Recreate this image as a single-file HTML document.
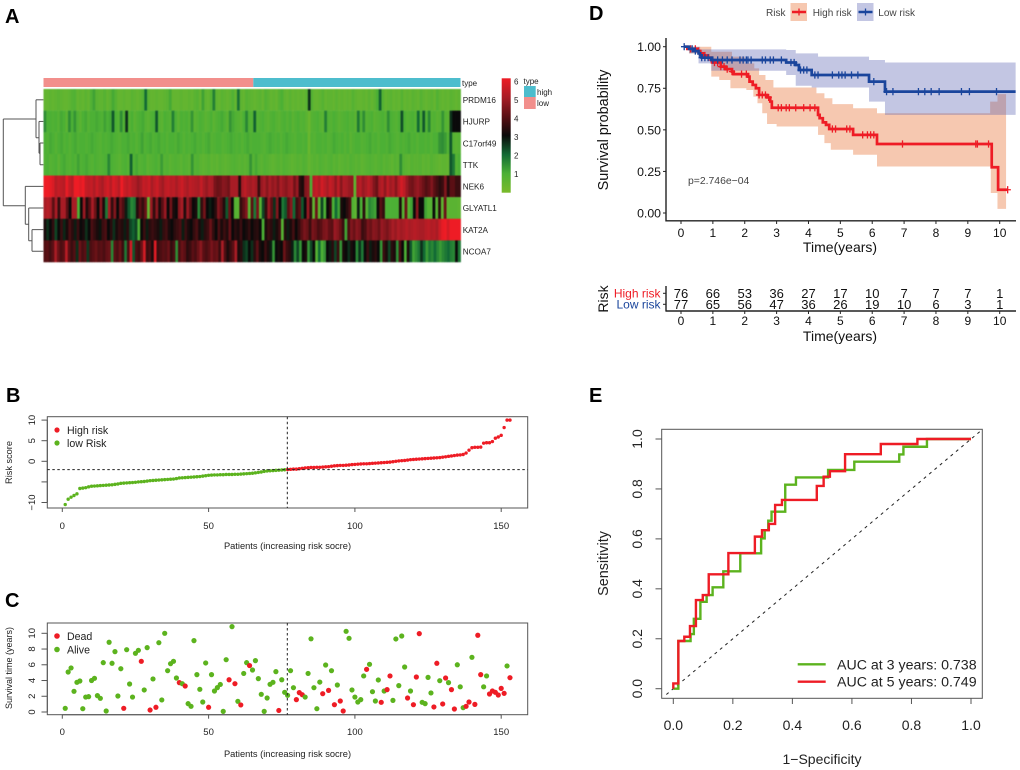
<!DOCTYPE html>
<html>
<head>
<meta charset="utf-8">
<title>Risk signature figure</title>
<style>
html,body{margin:0;padding:0;background:#fff;}
svg{display:block;font-family:"Liberation Sans",Arial,sans-serif;filter:blur(0.35px);}
#heat{filter:blur(0.5px);}
.letter{font-size:20px;font-weight:bold;fill:#000;}
.r{fill:#222;}
</style>
</head>
<body>
<svg id="fig" width="1020" height="770" viewBox="0 0 1020 770" xmlns="http://www.w3.org/2000/svg">
<rect x="0" y="0" width="1020" height="770" fill="#fff"/>
<text class="letter" x="5" y="23">A</text>
<text class="letter" x="6" y="402">B</text>
<text class="letter" x="5" y="607">C</text>
<text class="letter" x="589" y="20">D</text>
<text class="letter" x="589" y="402">E</text>

<g id="heat"></g>
<rect x="43.5" y="78" width="209.8" height="9" fill="#f28f8c"/>
<rect x="253.3" y="78" width="207.2" height="9" fill="#4dbdcd"/>
<text class="r" x="462" y="86" font-size="8">type</text>
<g id="dendro" stroke="#555" stroke-width="1" fill="none"></g>
<g id="genes"></g>
<defs>
<linearGradient id="cbar" x1="0" y1="1" x2="0" y2="0">
<stop offset="0" stop-color="#7aba2a"/><stop offset="0.167" stop-color="#4cb035"/><stop offset="0.333" stop-color="#126a35"/><stop offset="0.5" stop-color="#0a0a0a"/><stop offset="0.667" stop-color="#5a0f14"/><stop offset="0.833" stop-color="#a81c25"/><stop offset="1" stop-color="#ee1c25"/>
</linearGradient>
</defs>
<rect x="501.7" y="78.3" width="9" height="114.4" fill="url(#cbar)"/>
<g id="cbarTicks"></g>
<text class="r" x="523.5" y="84" font-size="8">type</text>
<rect x="524" y="86" width="11.7" height="11" fill="#4dbdcd"/>
<rect x="524" y="97" width="11.7" height="12" fill="#f28f8c"/>
<text class="r" x="537" y="95" font-size="8">high</text>
<text class="r" x="537" y="106" font-size="8">low</text>

<rect x="47.3" y="416.7" width="480.4" height="91.3" fill="none" stroke="#555" stroke-width="1"/>
<g id="bAxes"></g>
<g id="bPts"></g>
<line id="bH" x1="47.3" x2="527.7" stroke="#222" stroke-width="1" stroke-dasharray="2.5 2.5"/>
<line id="bV" y1="416.7" y2="508" stroke="#222" stroke-width="1" stroke-dasharray="2.5 2.5"/>
<circle cx="57" cy="430" r="2.6" fill="#ee1c25"/>
<circle cx="57" cy="443" r="2.6" fill="#5cb31e"/>
<text class="r" x="67" y="434" font-size="10.6">High risk</text>
<text class="r" x="67" y="447" font-size="10.6">low Risk</text>
<text class="r" x="287.5" y="549" font-size="9.3" text-anchor="middle">Patients (increasing risk socre)</text>
<text class="r" text-anchor="middle" font-size="9.2" transform="translate(12,462.5) rotate(-90)">Risk score</text>

<rect x="47.3" y="623" width="480.4" height="91.7" fill="none" stroke="#555" stroke-width="1"/>
<g id="cAxes"></g>
<g id="cPts"></g>
<line id="cV" y1="623" y2="714.7" stroke="#222" stroke-width="1" stroke-dasharray="2.5 2.5"/>
<circle cx="57" cy="636" r="2.8" fill="#ee1c25"/>
<circle cx="57" cy="649.5" r="2.8" fill="#5cb31e"/>
<text class="r" x="67" y="640" font-size="10.6">Dead</text>
<text class="r" x="67" y="653.5" font-size="10.6">Alive</text>
<text class="r" x="287.5" y="757" font-size="9.3" text-anchor="middle">Patients (increasing risk socre)</text>
<text class="r" text-anchor="middle" font-size="9" transform="translate(12,668) rotate(-90)">Survival time (years)</text>

<text fill="#444" x="766" y="16" font-size="10">Risk</text>
<rect x="790.5" y="3" width="16.5" height="18" fill="#f6c8b0"/>
<line x1="792" x2="806" y1="12" y2="12" stroke="#ee1c25" stroke-width="2.5"/>
<line x1="799" x2="799" y1="8.5" y2="15.5" stroke="#ee1c25" stroke-width="1.3"/>
<text fill="#444" x="812.7" y="16" font-size="10">High risk</text>
<rect x="857" y="3" width="16.5" height="18" fill="#c3c6e3"/>
<line x1="858.5" x2="872.5" y1="12" y2="12" stroke="#1a459c" stroke-width="2.5"/>
<line x1="865.5" x2="865.5" y1="8.5" y2="15.5" stroke="#1a459c" stroke-width="1.3"/>
<text fill="#444" x="878.3" y="16" font-size="10">Low risk</text>
<g id="dRib"></g>
<g id="dLines"></g>
<g id="dAxes"></g>
<text fill="#444" x="688" y="184" font-size="10.4">p=2.746e−04</text>
<text fill="#111" x="840" y="252" font-size="14" text-anchor="middle">Time(years)</text>
<text fill="#111" text-anchor="middle" font-size="14.4" transform="translate(608,130) rotate(-90)">Survival probability</text>
<g id="tbl"></g>
<text fill="#ee1c25" x="660.5" y="297.5" font-size="12" text-anchor="end">High risk</text>
<text fill="#1a459c" x="660.5" y="308.5" font-size="12" text-anchor="end">Low risk</text>
<text fill="#111" text-anchor="middle" font-size="14" transform="translate(608,299) rotate(-90)">Risk</text>
<text fill="#111" x="840" y="341" font-size="14" text-anchor="middle">Time(years)</text>

<rect x="661.7" y="429.3" width="320.6" height="269" fill="none" stroke="#555" stroke-width="1"/>
<g id="eAxes"></g>
<line id="eDiag" stroke="#222" stroke-width="1" stroke-dasharray="3 4"/>
<path id="eGreen" fill="none" stroke="#5cb31e" stroke-width="2.4"/>
<path id="eRed" fill="none" stroke="#ee1c25" stroke-width="2.4"/>
<line x1="797.7" x2="825.7" y1="664.3" y2="664.3" stroke="#5cb31e" stroke-width="2.4"/>
<line x1="797.7" x2="825.7" y1="681.7" y2="681.7" stroke="#ee1c25" stroke-width="2.4"/>
<text fill="#222" x="837" y="669.3" font-size="14.2">AUC at 3 years: 0.738</text>
<text fill="#222" x="837" y="686.7" font-size="14.2">AUC at 5 years: 0.749</text>
<text fill="#222" x="822" y="764" font-size="14" text-anchor="middle">1−Specificity</text>
<text fill="#222" text-anchor="middle" font-size="14.4" transform="translate(608,563.5) rotate(-90)">Sensitivity</text>
</svg>

<script>
/* ---------- Panel A data ---------- */
var genes = ["PRDM16","HJURP","C17orf49","TTK","NEK6","GLYATL1","KAT2A","NCOA7"];
var colorbarLabels = [1,2,3,4,5,6];
var rowPRDM16 = [.5,.5,.6,.5,.6,.7,.6,.5,.5,.6, .8,.9,.5,.6,.5,.7,.5,.9,1.2,.7, .6,.6,.8,.5,.7,1.1,.8,.5,.5,.6, .5,.5,.7,.6,.5,.6,.8,2,.7,.5, .5,.6,.5,.5,.6,.7,1.1,.5,.5,.5, .6,.5,.5,.6,.5,.7,.8,.5,1.2,.6, .5,.8,1.7,.6,.5,.7,.6,.5,.6,.9, .5,1.9,.6,.5,.8,.7,.6,.5,.6,.7, .5,.9,.7,.5,.6,.5,.8,1,.6,.5, .7,.5,.6,.5,.6,.5,.7,2.6,.8,.5, .5,.6,.8,.5,.6,.6,.5,.7,.5,.6, .5,.6,.5,.8,.6,.5,.5,.6,.5,.7, .5,.7,1,2.1,.8,.5,.6,.7,.5,.6, .5,.8,.5,.6,.5,.7,.6,.5,.8,.6, .5,.6,.7,.5,.9,.6,.5,.6,.5,.7, .6,.5,.6];
var rowHJURP = [1.5,1,1,.9,1,.8,1.1,1,.7,1.5, 1,1.4,.9,.7,1,1.1,.8,1,1,1.1, 1,.9,1.2,1,1.1,2.2,1,.8,1.5,.9, 2.6,.8,1,.7,.9,1,1.1,.8,.7,.9, 1,2.2,.8,.7,1,.9,.8,1.7,1,.7, 1,.9,1,.8,1.4,.7,.8,1,.9,.7, .8,1,.7,.9,1,1.1,.9,.7,1.4,1.1, .9,.8,.7,1,1.6,.9,.8,2.1, .8,.9,1,.8,.7,.9,1,.8,.7,.9,1,.8,1,.7,.9,1,.8,.9,.7,.4,.8,.9,1,.8,.7,1.7,.9,.8,1,.9,.7,.8,.9,1,.8,.9,.7,1.8,.9,1.5,.8,.9,1,.7,.8,.9,1,.8,1.5,1,.9,.8,1,2.3,1,.8,.9,1,.8,2,.9,2.2,.9,1.6,.8,.9,.7,.8,1.4,.8,.7,2.6,3,3,3];
var rowC17orf49 = [1,.9,1.1,1,.8,1,1.1,.9,1,.8, 1,1.1,.9,1,1,.9,1,1.1,1,.9, .8,1,.9,1,1.1,1,.9,.8,1,1, 1.1,.9,1,.8,1,1.2,.9,1,1.1,.9, 1,1.1,.9,1,.8,1,1,.9,1.1,1, .8,1,.9,1,1.1,.9,1,.8,1,1.1, .8,.9,1,1,.8,.9,1,1.1,1,.9, 1,.8,1,1.1,.9,1,1, 1,.9,.8,1,1.1,1,.9,1,.8,1, 1.1,1,.9,.8,1,1,.9,1,.4,.9, .8,1,1,.9,1,.8,.9,1.1,1,.9, 1,.8,1,.7,.9,1,1,.8,.9,1, 1.1,.9,1,.8,1,1,.9,1.1,1,.9, .8,1,.9,1,1.1,.9,1,.8,1,1, .9,1,.8,1,1,1.4,1.5,1.3,.9,2.2, .8,.7,.8];
var rowTTK = [.9,1,.8,.9,1,.7,1,1.1,.9,.8, 1,.9,1.2,.9,1,1.1,.9,.8,1,.9, .8,.9,1,1.6,1,.9,.8,.7,.9,1, .8,2.1,.9,1.1,.8,.9,1,.7,.8,.9, 1,.8,1.3,.8,.9,.7,.8,.9,.8,.7, .9,.8,.7,1.4,.8,.9,.7,.6,.7,.8, .6,.7,.6,.8,.7,.6,.7,.8,.9,.8, .7,.8,.7,.8,1.4,.8,1.1, .8,.7,.9,.8,.7,.6,.7,.8,.7,.9, .8,.7,.6,.7,.8,.7,.9,.8,.5,.7, .8,.7,.9,.8,.7,.8,.9,.7,.8,.6, .7,.8,.7,.9,.8,.7,.8,.6,.7,.8, .9,.8,.7,.8,.9,.7,.8,.7,.6,.8, .7,1.5,.8,.7,.6,.8,.7,.7,.8,.6, .7,.6,.8,.7,.6,.5,.6,.6,.5,2.2, 1.8,.8,1];
var rowNEK6 = [6,6,5.9,5.7,5.2,5.4,5.3,5.2,5.9,5.4, 5.2,6,6,5.8,6,5.4,5.3,5.4,5.1,5.5, 5.2,5,5.4,5.6,5.2,5.7,5.5,5.2,6,5.5, 5.3,5.5,5.2,5.1,4.8,5,5.4,5.3,5.5,5,5.3,5.5,5.1,4.9,5.3,5.4,5.2,5.3,5,5.3,5.5,5.2,5,5.3,5.2,5.1,5,5.4,5,4.8,5.1,5,4.4,4.2,4.3,4.6,4.5,4.3,5,5,5,3.3,5,5.3,5,4.9,5.1, 4.9,3.6,4.8,5,4.6,5,4.7,4.9,4.5,5,4.8,4.6,4.9,5,4.3,4.8,3.4,3.2,4.5,4.7,1,5.2,5.4,5.1,5.6,5.3,5,5.4,5.2,4.7,5.3,4.6,5.1,5,4.8,4.7,.6,5,5.2,4.8,5,5.3,5,4.5,4.2,5,5.2,4.7,5.3,4.9,5.1,4.6,5.2,5.6,5.3,4.8,4.4,4.3,4.6,4.8,4.5,4.2,3.9,4.1,4.5,4,3.7,3.4,3.6,4.5,3.3,4,4,3.6,3.6];
var rowGLYATL1 = [5,5.2,5,4,5,3.5,5,5,4,3, 5,5,1,3,4.8,3.3,4,5,4.2,3, 4.6,3.2,1.8,5,3.5,4.5,3,4.3,3.8,2.8, 2.2,1.6,1.8,3.3,4,3.5,4.2,.5,4.8,3.5, 4.6,3.2,4,4.8,3,4.3,3.2,3,4.6,5, 3.3,4.8,4,3,3.2,1.6,3.5,4.3,3,2.8, 3,3.4,4.5,4,3.3,2.2,4.2,3,.8,.7, 3.5,4,4.5,.7,4,1.8,4.4, .8,2.4,3.5,4.8,4,2.6,4.5,3,1.8,2.2,4,4.6,2,3.6,4,2.2,3,4.8,3.5,.6,4.2,.6,2.4,1,3,3.5,1,2,1.2,3.2,3,3.4,3.8,.9,.6,2.8,1,3.4,.8,1.6,1.4,1.2,3,4,3.5,1,1,1,1,1,3.2,.8,4.2,.8,1.2,3,4.6,3,3,1.2,.8,.8,3,.8,3.4,.6,4.2,.6,.7,.7,.7,.6];
var rowKAT2A = [3.2,2.6,3,3.5,2.4,3,3.6,2.7,3.2,3.8, 3.4,2.8,3.6,3,3.2,2.6,3,3.8,3.5,3.2, 2.9,3.6,3.8,3,3.4,2.6,3.2,3.5,3.3,2.8, 3.4,2.4,2.1,2.4,1,3,3.6,2.8,3.4,3.6, 3.4,3.2,2.8,3.5,3.7,3.2,3,3.4,3.6,3.8, 2.8,3.6,3.2,3,3.5,3.8,3.2,2.8,3.4,3.6, 4.2,3.5,3,3.8,3.2,3.6,3.3,4.1,3,3.4, 3.2,3.6,3,3.2,3.5,3,3.3, 3.4,3,1,3.2,3.6,3.4,2.8,3.2,3.6,.8,3.3,2.8,3.2,3.7,3,3.5,4,4.4,4.2,3.6,4.4,4.2,3.8,4,4.4,4.5,4.1,4,4.8,4.6,4.2,3.6,1.2,3.8,4.5,4.2,4.6,4.4,3.6,3.8,4.4,4.2,4.6,4.5,4.2,4.8,4.6,4.4,4.7,5,4.8,5.1,4.9,5,5.2,5,5.1,5.2,5.1,5,5,5.2,5.3,5.1,5.2,5,5.5,5.9,6,5.6,6,6,6,6];
var rowNCOA7 = [3.9,4,3.7,4,5,4.2,3.8,4,5.2,4, 3.6,3.9,2.6,4.2,3.8,4,2.5,3.8,4,4.2, 3.9,4,3.8,4.1,4.2,1.6,4,3.8,4.2,3.6, 1.8,3.8,5.6,2.2,3.8,3.6,4.2,5.6,3.6,3.8, 3.2,5.8,3.6,3.8,4,3.9,4.2,3.5,3.8,1.5, 3.8,4.2,4,3.4,3.6,4,3.8,4.2,4.6,4,3.8,4,4.4,4.1,4.2,3.6,5,3.8,3.2,3.6,4,5,3.2,3.4,2.6,2.4,3, 2.6,3.4,4,3.2,3,3.6,3.2,2.8,1.4,3,3.2,3,4.2,3.6,3.4,2.8,1.6,2.4,1.4,3,3.2,1.4,2.4,3,.8,2,1,1.4,3,2.8,3.4,2.4,3.6,1.4,3.2,3,2.6,3.2,3,1.6,2.6,1.8,3,3.6,2.8,3.2,3.4,3,1.4,3.6,3.2,2.4,3.4,3.2,1.5,3.8,3,1,3.2,2.2,1.2,1.5,1.8,2.6,2,1.3,1.8,1.6,2,1.6,1.3,1.6,1.8,2,1.7,1.6,3,1.8];
var heatRows = [rowPRDM16,rowHJURP,rowC17orf49,rowTTK,rowNEK6,rowGLYATL1,rowKAT2A,rowNCOA7];

/* ---------- Panel B data ---------- */
var riskScores = [-10.5,-9.2,-8.7,-8.3,-7.9,-6.6,-6.5,-6.4,-6.2,-6.05,-6,-5.95,-5.9,-5.85,-5.8,-5.75,-5.7,-5.6,-5.5,-5.35,-5.3,-5.25,-5.2,-5.15,-5.1,-5,-4.95,-4.9,-4.8,-4.7,-4.65,-4.6,-4.55,-4.5,-4.45,-4.4,-4.35,-4.3,-4.2,-4.05,-4,-3.95,-3.9,-3.85,-3.8,-3.75,-3.7,-3.6,-3.5,-3.4,-3.35,-3.3,-3.3,-3.25,-3.25,-3.2,-3.2,-3.2,-3.15,-3.15,-3.1,-3.05,-3,-2.95,-2.9,-2.8,-2.7,-2.6,-2.45,-2.35,-2.3,-2.25,-2.2,-2.15,-2.1,-2.05,-2,
-1.95,-1.9,-1.9,-1.8,-1.7,-1.6,-1.55,-1.5,-1.5,-1.45,-1.45,-1.4,-1.35,-1.3,-1.2,-1.1,-1.05,-1,-1,-.95,-.9,-.8,-.75,-.7,-.65,-.6,-.6,-.55,-.5,-.45,-.4,-.35,-.3,-.25,-.2,-.1,0,.1,.15,.2,.3,.4,.45,.5,.55,.6,.65,.7,.75,.8,.85,.9,1,1.1,1.2,1.3,1.4,1.5,1.55,1.65,2,2.7,3.3,3.4,3.4,3.45,4.4,4.5,4.5,4.8,5.6,5.9,6.3,8.2,10,10];
var riskCutoff = -2.03;
var medianPatient = 76.9;
var patientTicks = [0,50,100,150];
var riskTicks = [-10,-5,0,5,10];
var riskTickLabels = ["−10","","0","5","10"];

/* ---------- Panel C data ---------- */
var survivalYears = [.47,5.08,5.6,2.63,3.77,3.94,.42,1.9,1.95,4,4.28,2.08,1.74,6.27,.13,8.86,6.19,7.67,2.03,5.5,.47,7.92,3.56,1.9,7.46,7.84,6.44,2.8,8.18,.25,4.2,.6,8.81,1.53,10,5.25,6.14,6.44,4.32,3.73,3.6,3.3,1.06,.72,9.07,4.75,2.88,1.27,6.23,.6,4.75,2.67,3.1,3.5,.08,6.65,4.1,10.85,3.6,1.36,.9,4.9,6.27,5.9,5.34,6.53,4.24,2.25,.08,1.78,3.52,3.77,5.13,.2,4.1,2.5,2.12,5.25,3.09,1.57,2.46,2.2,1.9,4.9,9.3,3.09,.42,3.8,2.33,5.97,2.75,5.25,.93,3.43,1.4,.13,10.25,9.36,2.8,1.9,1.27,1.57,4.58,5.42,6.06,2.58,1.4,4.07,1.23,2.67,2.84,4.58,1.48,9.28,3.35,9.66,5.72,1.78,2.67,.93,4.45,9.96,1.23,1.06,4.4,2.42,.64,6.19,3.98,1.02,4.32,3.73,2.84,.38,6,3.2,.55,.72,1.27,6.95,.97,9.75,4.75,3.2,4.58,2.29,2.67,2.5,2.16,3,2.37,5.85,4.36];
var deadStatus = [0,0,0,0,0,0,0,0,0,0,0,0,0,0,0,0,0,0,0,0,1,0,0,0,0,0,1,0,0,1,0,1,0,0,0,0,0,0,0,1,0,1,0,0,0,0,0,0,0,1,0,0,0,0,0,0,1,0,1,0,1,0,0,1,0,0,0,0,0,0,0,0,0,1,0,0,0,0,0,1,1,1,0,0,0,0,0,0,1,0,1,0,1,0,1,1,0,0,0,0,0,0,0,1,0,0,0,0,1,0,1,1,0,0,0,0,0,1,0,1,1,1,0,0,0,0,1,1,0,1,1,0,1,1,0,0,0,1,1,0,1,1,1,0,0,1,1,1,1,1,1,0,1];
var survivalTicks = [0,2,4,6,8,10];

/* ---------- Panel D data ---------- */
var kmTicksX = [0,1,2,3,4,5,6,7,8,9,10];
var kmTicksY = [0,.25,.5,.75,1];
var kmTickLabelsY = ["0.00","0.25","0.50","0.75","1.00"];
var highTimes = [.1,.2,.5,.6,.7,.85,.95,1,1.25,1.4,1.6,1.65,2.1,2.15,2.25,2.35,2.45,2.7,2.8,2.85,4.3,4.35,4.45,4.55,4.65,5.4,6.15,9.75,9.95];
var highSurv  = [1,.987,.974,.96,.947,.934,.92,.905,.88,.865,.85,.835,.82,.79,.77,.75,.71,.695,.67,.633,.59,.57,.545,.53,.505,.47,.415,.275,.14];
var highEnd = 10.25;
var lowTimes = [.1,.25,.4,.55,.6,.65,.95,3.3,3.6,3.7,4.1,5.9,6.4];
var lowSurv  = [1,.987,.974,.96,.947,.934,.92,.905,.89,.86,.83,.79,.73];
var lowEnd = 10.5;
var highCensor = [.3,.45,.55,.75,.95,1.05,1.15,1.25,1.35,1.45,1.6,1.9,2.05,2.45,2.55,2.65,2.75,3.05,3.15,3.3,3.4,3.6,3.85,4.05,4.2,4.75,4.85,5.2,5.3,5.7,5.85,5.95,6.05,6.95,9.25,9.3,9.65,10.25];
var lowCensor = [.1,.35,.45,.65,.75,.85,1,1.15,1.3,1.45,1.6,1.85,1.95,2.05,2.1,2.2,2.55,2.65,2.8,2.9,3.15,3.45,3.55,3.75,3.85,3.95,4.2,4.3,4.75,4.95,5.05,5.15,5.35,5.55,6.05,6.45,6.65,7.45,7.65,7.85,8.1,8.8,9.05,9.9];
var highUpperT = [.1,.95,1.6,2,2.3,2.45,2.65,2.9,4.25,4.5,4.75,5.4,6.15,9.7,9.93];
var highUpper  = [1,.97,.94,.9,.87,.83,.8,.755,.72,.69,.655,.63,.6,.67,.715];
var highLowerT = [.1,.25,.55,.95,1.2,1.55,2.05,2.27,2.4,2.55,2.7,3,4.3,4.5,4.7,5.4,6.15,9.72,9.93];
var highLower  = [1,.96,.93,.82,.8,.75,.74,.7,.66,.6,.535,.52,.47,.42,.38,.35,.28,.12,.025];
var lowUpperT = [.1,.6,3.3,3.6,4.3,5.9,6.4];
var lowUpper  = [1,.984,.98,.96,.94,.92,.905];
var lowLowerT = [.1,.25,.55,.95,3.3,3.6,4.1,5.9,6.4];
var lowLower  = [1,.96,.9,.855,.83,.765,.755,.67,.59];
var atRiskHigh = [76,66,53,36,27,17,10,7,7,7,1];
var atRiskLow  = [77,65,56,47,36,26,19,10,6,3,1];

/* ---------- Panel E data ---------- */
var rocTicks = [0,.2,.4,.6,.8,1];
var rocTickLabels = ["0.0","0.2","0.4","0.6","0.8","1.0"];
var roc3Fpr = [.017,.058,.069,.091,.112,.132,.168,.225,.295,.307,.319,.33,.376,.412,.52,.608,.759,.773,.852,1];
var roc3Tpr = [.191,.219,.28,.348,.375,.406,.47,.542,.602,.635,.673,.709,.817,.846,.876,.909,.938,.969,1,1];
var roc5Fpr = [0,.017,.037,.056,.076,.099,.119,.185,.274,.298,.321,.342,.365,.482,.505,.526,.577,.697,.82,1];
var roc5Tpr = [.021,.191,.208,.251,.355,.375,.458,.543,.609,.635,.66,.736,.756,.812,.849,.871,.939,.98,1,1];

/* ---------- helpers ---------- */
var NS = "http://www.w3.org/2000/svg";
function mk(tag, attrs, parent){
  var e = document.createElementNS(NS, tag);
  for (var k in attrs) e.setAttribute(k, attrs[k]);
  parent.appendChild(e);
  return e;
}
function $(id){ return document.getElementById(id); }
function hex(a){ return [parseInt(a.substr(1,2),16),parseInt(a.substr(3,2),16),parseInt(a.substr(5,2),16)]; }
var stops = ["#7aba2a","#4cb035","#126a35","#0a0a0a","#5a0f14","#a81c25","#ee1c25"];
function heatColor(v){
  var t = Math.max(0, Math.min(5.999, v)), i = Math.floor(t), f = t - i;
  var a = hex(stops[i]), b = hex(stops[i+1]);
  return "rgb(" + Math.round(a[0]+(b[0]-a[0])*f) + "," + Math.round(a[1]+(b[1]-a[1])*f) + "," + Math.round(a[2]+(b[2]-a[2])*f) + ")";
}

/* ---------- Panel A ---------- */
var heatX = function(i, n){ return 43.5 + i * 417 / n; };
var heatY = function(r){ return 89 + r * 21.63; };
heatRows.forEach(function(row, r){
  row.forEach(function(v, c){
    var cell = mk("rect", {x: heatX(c, row.length), y: heatY(r), width: 417/row.length + 0.4, height: 21.83, fill: heatColor(v)}, $("heat"));
    
    
  });
});
genes.forEach(function(g, r){
  var t = mk("text", {x: 462.7, y: heatY(r) + 14, "font-size": 8.2, fill: "#222"}, $("genes"));
  t.textContent = g;
  
  
});
colorbarLabels.forEach(function(v){
  var t = mk("text", {x: 514, y: 174 + (v - 1) * -18.5 + 3, "font-size": 8, fill: "#222"}, $("cbarTicks"));
  t.textContent = v;
  
  
});
var rowC = function(r){ return heatY(r) + 10.8; };
var dendroPaths = [
  "M36 " + rowC(0) + "H43.5",
  "M39 " + rowC(1) + "H43.5",
  "M40 " + rowC(2) + "H43.5M40 " + rowC(3) + "H43.5M40 " + rowC(2) + "V" + rowC(3),
  "M39 153.3H40M39 " + rowC(1) + "V153.3",
  "M36 137.7H39M36 " + rowC(0) + "V137.7",
  "M3.3 119H36M3.3 119V205.7",
  "M3.3 205.7H25.3M25.3 " + rowC(4) + "V224.3M25.3 " + rowC(4) + "H43.5",
  "M25.3 224.3H28.7M28.7 " + rowC(5) + "V240.7M28.7 " + rowC(5) + "H43.5",
  "M28.7 240.7H32M32 " + rowC(6) + "V" + rowC(7) + "M32 " + rowC(6) + "H43.5M32 " + rowC(7) + "H43.5"
];
dendroPaths.forEach(function(d){
  var p = mk("path", {d: d}, $("dendro"));
  
  
});

/* ---------- R-style axes for B, C ---------- */
var patientX = function(p){ return 62.3 + 2.926 * p; };
var riskY = function(v){ return 461.3 - 4.12 * v; };
var survY = function(v){ return 712 - 7.87 * v; };
function rAxisX(group, ticks, base, labelY, sx){
  var ax = mk("line", {x1: sx(ticks[0]), x2: sx(ticks[ticks.length-1]), y1: base, y2: base, stroke: "#555"}, group);
  
  
  ticks.forEach(function(v){
    var l = mk("line", {x1: sx(v), x2: sx(v), y1: base, y2: base + 4, stroke: "#555"}, group);
    
    
    var t = mk("text", {x: sx(v), y: labelY, "font-size": 9.5, "text-anchor": "middle", fill: "#222"}, group);
    t.textContent = v;
    
    
  });
}
function rAxisY(group, ticks, labels, sy){
  var ax = mk("line", {x1: 47.3, x2: 47.3, y1: sy(ticks[0]), y2: sy(ticks[ticks.length-1]), stroke: "#555"}, group);
  
  
  ticks.forEach(function(v, i){
    var l = mk("line", {x1: 41.5, x2: 47.3, y1: sy(v), y2: sy(v), stroke: "#555"}, group);
    
    
    var t = mk("text", {"font-size": 9.5, "text-anchor": "middle", fill: "#222", transform: "translate(35," + sy(v) + ") rotate(-90)"}, group);
    t.textContent = labels[i];
    
    
  });
}
rAxisX($("bAxes"), patientTicks, 508, 529, patientX);
rAxisY($("bAxes"), riskTicks, riskTickLabels, riskY);
rAxisX($("cAxes"), patientTicks, 714.7, 735, patientX);
rAxisY($("cAxes"), survivalTicks, survivalTicks, survY);

riskScores.forEach(function(v, i){
  var c = mk("circle", {cx: patientX(i+1), cy: riskY(v), r: 1.7, fill: v > riskCutoff ? "#ee1c25" : "#5cb31e"}, $("bPts"));
  
  
});
$("bH").setAttribute("y1", riskY(riskCutoff));
$("bH").setAttribute("y2", riskY(riskCutoff));
$("bV").setAttribute("x1", patientX(medianPatient));
$("bV").setAttribute("x2", patientX(medianPatient));
$("cV").setAttribute("x1", patientX(medianPatient));
$("cV").setAttribute("x2", patientX(medianPatient));
survivalYears.forEach(function(v, i){
  var c = mk("circle", {cx: patientX(i+1), cy: survY(v), r: 2.6, fill: deadStatus[i] ? "#ee1c25" : "#5cb31e"}, $("cPts"));
  
  
});

/* ---------- Panel D ---------- */
var kmX = function(t){ return 681 + 31.87 * t; };
var kmY = function(s){ return 213 - 166.3 * s; };
function stepPts(ts, ss, end){
  var pts = [];
  ts.forEach(function(t, i){
    if (i > 0) pts.push([kmX(t), kmY(ss[i-1])]);
    pts.push([kmX(t), kmY(ss[i])]);
  });
  pts.push([kmX(end), kmY(ss[ss.length-1])]);
  return pts;
}
function toD(pts){ return "M" + pts.map(function(p){ return p[0].toFixed(2) + " " + p[1].toFixed(2); }).join("L"); }
function band(name, upT, up, loT, lo, end, fill){
  var pts = stepPts(upT, up, end).concat(stepPts(loT, lo, end).reverse());
  var p = mk("path", {d: toD(pts) + "Z", fill: fill, "fill-opacity": .35}, $("dRib"));
  
  
}
band("high-risk-ci-band", highUpperT, highUpper, highLowerT, highLower, 10.2, "#e5621d");
band("low-risk-ci-band", lowUpperT, lowUpper, lowLowerT, lowLower, lowEnd, "#545caf");
function survAt(ts, ss, t){
  var s = ss[0];
  for (var i = 0; i < ts.length; i++) if (ts[i] <= t) s = ss[i];
  return s;
}
function curve(name, ts, ss, end, color, censor){
  var p = mk("path", {d: toD(stepPts(ts, ss, end)), fill: "none", stroke: color, "stroke-width": 2.7}, $("dLines"));
  
  
  censor.forEach(function(t){
    var y = kmY(survAt(ts, ss, t)), x = kmX(t);
    var m = mk("path", {d: "M" + (x-3.2) + " " + y + "H" + (x+3.2) + "M" + x + " " + (y-3.6) + "V" + (y+3.6), stroke: color, "stroke-width": 1.3, fill: "none"}, $("dLines"));
    
    
  });
}
curve("high-risk-curve", highTimes, highSurv, highEnd, "#ee1c25", highCensor);
curve("low-risk-curve", lowTimes, lowSurv, lowEnd, "#1a459c", lowCensor);
var dA = $("dAxes");
var dAxisL = mk("line", {x1: 666, x2: 666, y1: 38, y2: 221.5, stroke: "#222", "stroke-width": 1.4}, dA);


var dAxisB = mk("line", {x1: 665.5, x2: 1016, y1: 220.8, y2: 220.8, stroke: "#222", "stroke-width": 1.4}, dA);


kmTicksX.forEach(function(v){
  var l = mk("line", {x1: kmX(v), x2: kmX(v), y1: 221, y2: 224, stroke: "#222"}, dA);
  
  
  var t = mk("text", {x: kmX(v), y: 237, "font-size": 12, "text-anchor": "middle", fill: "#111"}, dA);
  t.textContent = v;
  
  
});
kmTicksY.forEach(function(v, i){
  var l = mk("line", {x1: 663, x2: 666, y1: kmY(v), y2: kmY(v), stroke: "#222"}, dA);
  
  
  var t = mk("text", {x: 661, y: kmY(v) + 4.4, "font-size": 12.3, "text-anchor": "end", fill: "#111"}, dA);
  t.textContent = kmTickLabelsY[i];
  
  
});
var tb = $("tbl");
var tblL = mk("line", {x1: 666, x2: 666, y1: 286, y2: 311.3, stroke: "#222", "stroke-width": 1.4}, tb);


var tblB = mk("line", {x1: 665.5, x2: 1016, y1: 311, y2: 311, stroke: "#222", "stroke-width": 1.4}, tb);


[293.3, 304.3].forEach(function(y){
  var l = mk("line", {x1: 663, x2: 666, y1: y, y2: y, stroke: "#222"}, tb);
  
  
});
kmTicksX.forEach(function(v, i){
  var l = mk("line", {x1: kmX(v), x2: kmX(v), y1: 311, y2: 314, stroke: "#222"}, tb);
  
  
  var t = mk("text", {x: kmX(v), y: 325, "font-size": 12, "text-anchor": "middle", fill: "#111"}, tb);
  t.textContent = v;
  
  
  var a = mk("text", {x: kmX(v), y: 298, "font-size": 13, "text-anchor": "middle", fill: "#111"}, tb);
  a.textContent = atRiskHigh[i];
  
  
  var b = mk("text", {x: kmX(v), y: 309, "font-size": 13, "text-anchor": "middle", fill: "#111"}, tb);
  b.textContent = atRiskLow[i];
  
  
});

/* ---------- Panel E ---------- */
var rocX = function(f){ return 673.3 + 297.7 * f; };
var rocY = function(t){ return 688.7 - 249.7 * t; };
function rocPath(fs, ts){
  var d = "M" + rocX(0) + " " + rocY(0), prev = 0;
  fs.forEach(function(f, i){
    d += "L" + rocX(f).toFixed(2) + " " + rocY(prev).toFixed(2);
    d += "L" + rocX(f).toFixed(2) + " " + rocY(ts[i]).toFixed(2);
    prev = ts[i];
  });
  return d;
}
$("eGreen").setAttribute("d", rocPath(roc3Fpr, roc3Tpr));
$("eRed").setAttribute("d", rocPath(roc5Fpr, roc5Tpr));
var diagLo = (673.3 - 661.7) / 297.7, diagHiX = (982.3 - 673.3) / 297.7;
var eDiag = $("eDiag");
eDiag.setAttribute("x1", rocX(-diagLo * 0.6));
eDiag.setAttribute("y1", rocY(-diagLo * 0.6));
eDiag.setAttribute("x2", rocX(diagHiX));
eDiag.setAttribute("y2", rocY(diagHiX));
var eA = $("eAxes");
rocTicks.forEach(function(v, i){
  var l = mk("line", {x1: rocX(v), x2: rocX(v), y1: 698.3, y2: 704, stroke: "#555"}, eA);
  
  
  var t = mk("text", {x: rocX(v), y: 730, "font-size": 14, "text-anchor": "middle", fill: "#222"}, eA);
  t.textContent = rocTickLabels[i];
  
  
  var l2 = mk("line", {x1: 655.5, x2: 661.7, y1: rocY(v), y2: rocY(v), stroke: "#555"}, eA);
  
  
  var t2 = mk("text", {"font-size": 14, "text-anchor": "middle", fill: "#222", transform: "translate(642," + rocY(v) + ") rotate(-90)"}, eA);
  t2.textContent = rocTickLabels[i];
  
  
});
</script>
</body>
</html>
